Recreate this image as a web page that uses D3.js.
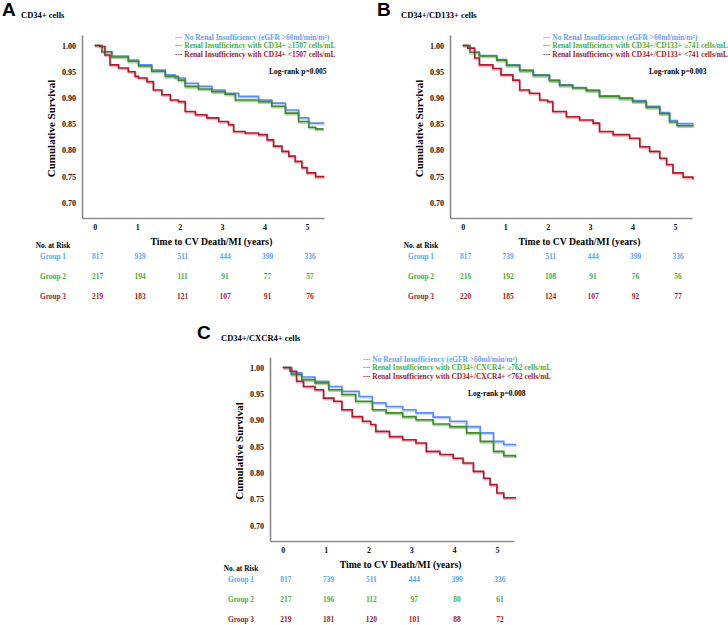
<!DOCTYPE html>
<html>
<head>
<meta charset="utf-8">
<script src="https://cdn.jsdelivr.net/npm/d3@7"></script>
<style>
  body { margin: 0; background: #fff; }
  svg text { font-family: "Liberation Serif", "Times New Roman", serif; font-weight: bold; }
</style>
</head>
<body>
<div id="canvas"></div>
<script>
// survival curves: [years, cumulative survival]
const aGroup1 = [[0,1.0],[0.17,0.988],[0.4,0.98],[0.79,0.972],[1.03,0.963],[1.34,0.953],[1.66,0.944],[1.89,0.938],[2.13,0.928],[2.44,0.922],[2.76,0.915],[3.07,0.909],[3.39,0.903],[3.86,0.896],[4.17,0.89],[4.49,0.877],[4.8,0.862],[5.04,0.852],[5.39,0.851]];
const aGroup2 = [[0,1.0],[0.17,0.988],[0.4,0.978],[0.79,0.97],[1.03,0.961],[1.34,0.951],[1.66,0.941],[1.97,0.934],[2.13,0.922],[2.44,0.917],[2.76,0.912],[3.07,0.907],[3.31,0.896],[3.86,0.893],[4.17,0.884],[4.49,0.871],[4.8,0.855],[5.04,0.844],[5.2,0.841],[5.39,0.841]];
const aGroup3 = [[0,1.0],[0.12,0.998],[0.24,0.982],[0.36,0.963],[0.56,0.957],[0.79,0.95],[0.95,0.941],[1.03,0.938],[1.23,0.931],[1.38,0.915],[1.58,0.906],[1.78,0.896],[1.97,0.893],[2.13,0.874],[2.37,0.868],[2.64,0.862],[2.92,0.855],[3.15,0.849],[3.27,0.836],[3.54,0.833],[3.86,0.83],[4.06,0.82],[4.21,0.808],[4.41,0.798],[4.57,0.789],[4.72,0.779],[4.88,0.767],[5.0,0.757],[5.2,0.75],[5.39,0.749]];

const bGroup1 = [[0,1.0],[0.17,0.987],[0.39,0.981],[0.8,0.973],[1.03,0.963],[1.34,0.953],[1.66,0.944],[2.04,0.934],[2.28,0.925],[2.59,0.92],[2.91,0.915],[3.22,0.904],[3.69,0.9],[4.0,0.895],[4.32,0.884],[4.64,0.872],[4.87,0.857],[5.05,0.851],[5.42,0.85]];
const bGroup2 = [[0,1.0],[0.17,0.987],[0.39,0.98],[0.8,0.972],[1.03,0.962],[1.34,0.952],[1.66,0.943],[2.04,0.933],[2.28,0.924],[2.59,0.919],[2.91,0.914],[3.22,0.903],[3.69,0.899],[4.0,0.893],[4.32,0.882],[4.64,0.87],[4.87,0.854],[5.05,0.847],[5.42,0.846]];
const bGroup3 = [[0,1.0],[0.12,0.995],[0.28,0.976],[0.39,0.963],[0.71,0.956],[0.9,0.944],[1.18,0.934],[1.34,0.915],[1.57,0.909],[1.81,0.896],[2.0,0.893],[2.12,0.874],[2.44,0.864],[2.75,0.858],[3.07,0.852],[3.22,0.836],[3.54,0.83],[3.93,0.823],[4.17,0.807],[4.4,0.798],[4.64,0.785],[4.8,0.773],[4.95,0.757],[5.19,0.749],[5.42,0.745]];

const cGroup1 = [[0,1.0],[0.2,0.99],[0.44,0.982],[0.75,0.974],[1.07,0.964],[1.38,0.955],[1.78,0.945],[2.09,0.933],[2.41,0.926],[2.8,0.92],[3.11,0.914],[3.51,0.906],[3.9,0.898],[4.29,0.888],[4.61,0.876],[4.92,0.86],[5.16,0.854],[5.43,0.852]];
const cGroup2 = [[0,1.0],[0.2,0.987],[0.44,0.977],[0.75,0.971],[1.07,0.958],[1.38,0.949],[1.7,0.936],[2.09,0.92],[2.41,0.914],[2.8,0.907],[3.11,0.901],[3.51,0.893],[3.9,0.888],[4.29,0.876],[4.61,0.86],[4.92,0.841],[5.16,0.833],[5.43,0.83]];
const cGroup3 = [[0,1.0],[0.17,0.993],[0.32,0.974],[0.48,0.964],[0.75,0.958],[0.95,0.942],[1.19,0.936],[1.38,0.92],[1.62,0.907],[1.86,0.898],[2.05,0.892],[2.17,0.879],[2.49,0.869],[2.8,0.863],[3.11,0.857],[3.35,0.841],[3.67,0.835],[3.98,0.828],[4.21,0.819],[4.45,0.803],[4.69,0.79],[4.84,0.778],[5.0,0.762],[5.16,0.753],[5.43,0.752]];

// numbers at risk
const riskA = [[817,939,511,444,399,336],[217,194,111,91,77,57],[219,183,121,107,91,76]];
const riskB = [[817,739,511,444,399,336],[216,192,108,91,76,56],[220,185,124,107,92,77]];
const riskC = [[817,739,511,444,399,336],[217,196,112,97,80,61],[219,181,120,101,88,72]];

const xTicks = [0, 1, 2, 3, 4, 5];
const yTicks = [1.00, 0.95, 0.90, 0.85, 0.80, 0.75, 0.70];
const groupNames = ["Group 1", "Group 2", "Group 3"];

const lineCol = ["#5b8cef", "#3f8a2c", "#b01a30"];
const haloCol = ["#c9d8f7", "#b4d0aa", "#eab4bd"];
const textCol = ["#5aa6f2", "#4cac3e", "#9c1c26"];

const panels = [
  { letter: "A", title: "CD34+ cells", ax: 82, top: 35, bottom: 218, width: 242,
    letterX: 2, titleX: 21, headY: 15, logX: 269, p: "0.005",
    curves: [aGroup1, aGroup2, aGroup3], risk: riskA,
    legend: ["No Renal Insufficiency (eGFR >60ml/min/m²)", "Renal Insufficiency with CD34+ ≥1507 cells/mL", "Renal Insufficiency with CD34+ <1507 cells/mL"] },
  { letter: "B", title: "CD34+/CD133+ cells", ax: 450, top: 35, bottom: 218, width: 242,
    letterX: 377, titleX: 401, headY: 15, logX: 649, p: "0.003",
    curves: [bGroup1, bGroup2, bGroup3], risk: riskB,
    legend: ["No Renal Insufficiency (eGFR >60ml/min/m²)", "Renal Insufficiency with CD34+/CD133+ ≥741 cells/mL", "Renal Insufficiency with CD34+/CD133+ <741 cells/mL"] },
  { letter: "C", title: "CD34+/CXCR4+ cells", ax: 270, top: 357, bottom: 541, width: 244,
    letterX: 197, titleX: 221, headY: 338, logX: 468, p: "0.008",
    curves: [cGroup1, cGroup2, cGroup3], risk: riskC,
    legend: ["No Renal Insufficiency (eGFR >60ml/min/m²)", "Renal Insufficiency with CD34+/CXCR4+ ≥762 cells/mL", "Renal Insufficiency with CD34+/CXCR4+ <762 cells/mL"] }
];

const svg = d3.select("#canvas").append("svg")
  .attr("width", 728)
  .attr("height", 625);

function drawPanel(cfg) {
  const g = svg.append("g");
  const x = d3.scaleLinear().domain([-0.3, 5.4]).range([cfg.ax, cfg.ax + cfg.width]);
  const y = d3.scaleLinear().domain([0.671, 1.02]).range([cfg.bottom, cfg.top]);

  g.append("text")
    .attr("x", cfg.letterX).attr("y", cfg.headY - 6)
    .attr("dominant-baseline", "central")
    .style("font-family", "'Liberation Sans', Arial, sans-serif")
    .style("font-size", "19px")
    .text(cfg.letter);
  g.append("text")
    .attr("x", cfg.titleX).attr("y", cfg.headY)
    .attr("dominant-baseline", "central")
    .style("font-size", "8.5px")
    .text(cfg.title);

  // axes, no tick marks
  const yAxis = g.append("g")
    .attr("transform", `translate(${cfg.ax},0)`)
    .call(d3.axisLeft(y).tickValues(yTicks).tickSize(0).tickPadding(6).tickFormat(d3.format(".2f")));
  const xAxis = g.append("g")
    .attr("transform", `translate(0,${cfg.bottom})`)
    .call(d3.axisBottom(x).tickValues(xTicks).tickSize(0).tickPadding(6).tickFormat(d3.format("d")));
  [yAxis, xAxis].forEach(a => {
    a.select(".domain").attr("stroke", "#8a8a8a").attr("stroke-width", 1.6);
    a.selectAll("text")
      .style("font-family", "'Liberation Serif', serif")
      .style("font-weight", "bold")
      .style("font-size", "8px")
      .attr("fill", "#111");
  });

  g.append("text")
    .attr("transform", `translate(${cfg.ax - 31},${(cfg.top + cfg.bottom) / 2 + 2}) rotate(-90)`)
    .attr("text-anchor", "middle")
    .attr("dominant-baseline", "central")
    .style("font-size", "11px")
    .text("Cumulative Survival");
  g.append("text")
    .attr("x", x(2.75)).attr("y", cfg.bottom + 23.5)
    .attr("text-anchor", "middle")
    .attr("dominant-baseline", "central")
    .style("font-size", "9.7px")
    .text("Time to CV Death/MI (years)");

  // curves, with the pale shadow that the original has
  const line = d3.line()
    .x(d => x(d[0]))
    .y(d => y(d[1]))
    .curve(d3.curveStepAfter);
  cfg.curves.forEach((c, i) => {
    g.append("path")
      .datum(c)
      .attr("transform", "translate(0.6,1.3)")
      .attr("fill", "none")
      .attr("stroke", haloCol[i])
      .attr("stroke-width", 2)
      .attr("d", line);
  });
  cfg.curves.forEach((c, i) => {
    g.append("path")
      .datum(c)
      .attr("fill", "none")
      .attr("stroke", lineCol[i])
      .attr("stroke-width", 1.6)
      .attr("d", line);
  });

  // legend
  cfg.legend.forEach((t, i) => {
    g.append("text")
      .attr("x", cfg.ax + 93).attr("y", cfg.top + 2 + i * 8.6)
      .attr("dominant-baseline", "central")
      .attr("fill", textCol[i])
      .style("font-size", "7.45px")
      .text("--- " + t);
  });
  g.append("text")
    .attr("x", cfg.logX).attr("y", cfg.top + 36)
    .attr("dominant-baseline", "central")
    .style("font-size", "7.5px")
    .text("Log-rank p=" + cfg.p);

  // number at risk table
  g.append("text")
    .attr("x", cfg.ax - 29).attr("y", cfg.bottom + 27)
    .attr("text-anchor", "middle")
    .attr("dominant-baseline", "central")
    .style("font-size", "7.3px")
    .text("No. at Risk");
  cfg.risk.forEach((row, i) => {
    const ry = cfg.bottom + 38.6 + i * 19.7;
    g.append("text")
      .attr("x", cfg.ax - 29).attr("y", ry)
      .attr("text-anchor", "middle")
      .attr("dominant-baseline", "central")
      .attr("fill", textCol[i])
      .style("font-size", "7.3px")
      .text(groupNames[i]);
    g.selectAll(null)
      .data(row)
      .enter()
      .append("text")
      .attr("x", (d, j) => x(xTicks[j]) + 3)
      .attr("y", ry)
      .attr("text-anchor", "middle")
      .attr("dominant-baseline", "central")
      .attr("fill", textCol[i])
      .style("font-size", "7.5px")
      .text(d => d);
  });
}

panels.forEach(drawPanel);
</script>
</body>
</html>
